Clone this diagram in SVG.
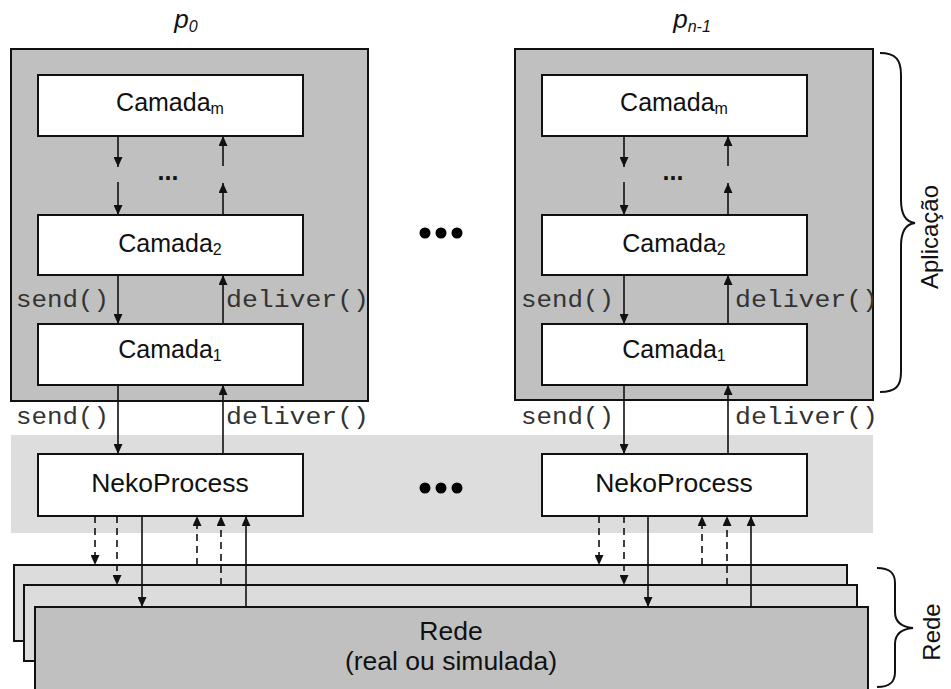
<svg xmlns="http://www.w3.org/2000/svg" width="951" height="689" viewBox="0 0 951 689">
<style>
.proc{fill:#c0c0c0;stroke:#111;stroke-width:2}
.box{fill:#fff;stroke:#111;stroke-width:2}
.band{fill:#dddddd;stroke:none}
.netb{fill:#dcdcdc;stroke:#111;stroke-width:2}
.netf{fill:#c0c0c0;stroke:#111;stroke-width:2}
.lbl{font-family:"Liberation Sans",Arial,sans-serif;font-size:25px;fill:#111;text-anchor:middle}
.big{font-size:26.5px}
.sub{font-size:16px}
.mono{font-family:"Liberation Mono","Courier New",monospace;font-size:24px;fill:#333}
.ttl{font-family:"Liberation Sans",Arial,sans-serif;font-size:26px;font-style:italic;fill:#111;text-anchor:middle}
.dots{font-family:"Liberation Sans",Arial,sans-serif;font-size:25px;font-weight:bold;fill:#111;text-anchor:middle}
.vert{font-family:"Liberation Sans",Arial,sans-serif;font-size:24px;fill:#111;text-anchor:middle}
.c{fill:none;stroke:#111;stroke-width:1.6;marker-end:url(#ah)}
.d{stroke-dasharray:7 5}
.brace{fill:none;stroke:#111;stroke-width:2}
</style>
<defs>
<marker id="ah" viewBox="0 0 10 9" refX="10" refY="4.5" markerWidth="10" markerHeight="9" markerUnits="userSpaceOnUse" orient="auto">
<path d="M0,0 L10,4.5 L0,9 z" fill="#111"/>
</marker>
</defs>
<rect width="951" height="689" fill="#fff"/>

<g id="band"><rect class="band" x="11" y="435" width="862" height="98"/></g>

<g id="p0">
<text class="ttl" x="186" y="28">p<tspan class="sub" dy="4">0</tspan></text>
<rect class="proc" x="11" y="49" width="357" height="352"/>
</g>
<g id="pn1">
<text class="ttl" x="692" y="28">p<tspan class="sub" dy="4">n-1</tspan></text>
<rect class="proc" x="515" y="49" width="358" height="351"/>
</g>

<g id="p0-camadam"><rect class="box" x="38" y="75" width="265" height="61"/><text class="lbl" x="170" y="111">Camada<tspan class="sub" dy="3">m</tspan></text></g>
<g id="p0-camada2"><rect class="box" x="38" y="215" width="265" height="60"/><text class="lbl" x="170" y="252">Camada<tspan class="sub" dy="3">2</tspan></text></g>
<g id="p0-camada1"><rect class="box" x="38" y="324" width="265" height="61"/><text class="lbl" x="170" y="358">Camada<tspan class="sub" dy="3">1</tspan></text></g>
<g id="p0-neko"><rect class="box" x="38" y="454" width="265" height="62"/><text class="lbl big" x="170" y="492">NekoProcess</text></g>

<g id="pn1-camadam"><rect class="box" x="542" y="75" width="265" height="61"/><text class="lbl" x="674" y="111">Camada<tspan class="sub" dy="3">m</tspan></text></g>
<g id="pn1-camada2"><rect class="box" x="542" y="215" width="265" height="60"/><text class="lbl" x="674" y="252">Camada<tspan class="sub" dy="3">2</tspan></text></g>
<g id="pn1-camada1"><rect class="box" x="542" y="324" width="265" height="61"/><text class="lbl" x="674" y="358">Camada<tspan class="sub" dy="3">1</tspan></text></g>
<g id="pn1-neko"><rect class="box" x="542" y="454" width="265" height="62"/><text class="lbl big" x="674" y="492">NekoProcess</text></g>

<g id="rede">
<rect class="netb" x="14" y="565" width="833" height="76"/>
<rect class="netb" x="24" y="585" width="833" height="76"/>
<rect class="netf" x="35" y="607" width="833" height="100"/>
<text class="lbl big" x="451" y="640">Rede</text>
<text class="lbl big" x="451" y="670">(real ou simulada)</text>
</g>

<g id="ellipsis">
<text class="dots" x="168" y="180">...</text>
<text class="dots" x="673" y="180">...</text>
<circle cx="425" cy="233" r="5.5" fill="#000"/><circle cx="441" cy="233" r="5.5" fill="#000"/><circle cx="457" cy="233" r="5.5" fill="#000"/>
<circle cx="425" cy="488" r="5.5" fill="#000"/><circle cx="441" cy="488" r="5.5" fill="#000"/><circle cx="457" cy="488" r="5.5" fill="#000"/>
</g>

<g id="connectors">
<path class="c" d="M118,136 L118,167"/>
<path class="c" d="M118,182 L118,215"/>
<path class="c" d="M223,166 L223,136"/>
<path class="c" d="M223,215 L223,183"/>
<path class="c" d="M118,275 L118,324"/>
<path class="c" d="M223,324 L223,275"/>
<path class="c" d="M118,385 L118,454"/>
<path class="c" d="M223,454 L223,385"/>
<path class="c d" d="M95,516 L95,565"/>
<path class="c d" d="M117,516 L117,585"/>
<path class="c" d="M142,516 L142,607"/>
<path class="c d" d="M197,565 L197,516"/>
<path class="c d" d="M221,585 L221,516"/>
<path class="c" d="M246,607 L246,516"/>

<path class="c" d="M624,136 L624,167"/>
<path class="c" d="M624,182 L624,215"/>
<path class="c" d="M728,166 L728,136"/>
<path class="c" d="M728,215 L728,183"/>
<path class="c" d="M624,275 L624,324"/>
<path class="c" d="M728,324 L728,275"/>
<path class="c" d="M624,385 L624,454"/>
<path class="c" d="M728,454 L728,385"/>
<path class="c d" d="M599,516 L599,565"/>
<path class="c d" d="M624,516 L624,585"/>
<path class="c" d="M648,516 L648,607"/>
<path class="c d" d="M702,565 L702,516"/>
<path class="c d" d="M727,585 L727,516"/>
<path class="c" d="M751,607 L751,516"/>
</g>

<g id="labels">
<text class="mono" x="16" y="307" textLength="93" lengthAdjust="spacingAndGlyphs">send()</text>
<text class="mono" x="226" y="307" textLength="143" lengthAdjust="spacingAndGlyphs">deliver()</text>
<text class="mono" x="16" y="424" textLength="93" lengthAdjust="spacingAndGlyphs">send()</text>
<text class="mono" x="226" y="424" textLength="143" lengthAdjust="spacingAndGlyphs">deliver()</text>
<text class="mono" x="521" y="307" textLength="93" lengthAdjust="spacingAndGlyphs">send()</text>
<text class="mono" x="735" y="307" textLength="143" lengthAdjust="spacingAndGlyphs">deliver()</text>
<text class="mono" x="521" y="424" textLength="93" lengthAdjust="spacingAndGlyphs">send()</text>
<text class="mono" x="735" y="424" textLength="143" lengthAdjust="spacingAndGlyphs">deliver()</text>
</g>

<g id="aplicacao">
<path class="brace" d="M880,53 C896,53 901,60 901,75 L901,200 C901,214 906,222 915,223 C906,224 901,232 901,246 L901,372 C901,386 896,392 880,392"/>
<text class="vert" x="938" y="237" transform="rotate(-90 938 237)">Aplicação</text>
</g>
<g id="rede-brace">
<path class="brace" d="M877,568 C890,568 895,573 895,583 L895,612 C895,622 902,627 913,628 C902,629 895,634 895,644 L895,672 C895,682 890,687 877,687"/>
<text class="vert" x="940" y="632" transform="rotate(-90 940 632)">Rede</text>
</g>
</svg>
